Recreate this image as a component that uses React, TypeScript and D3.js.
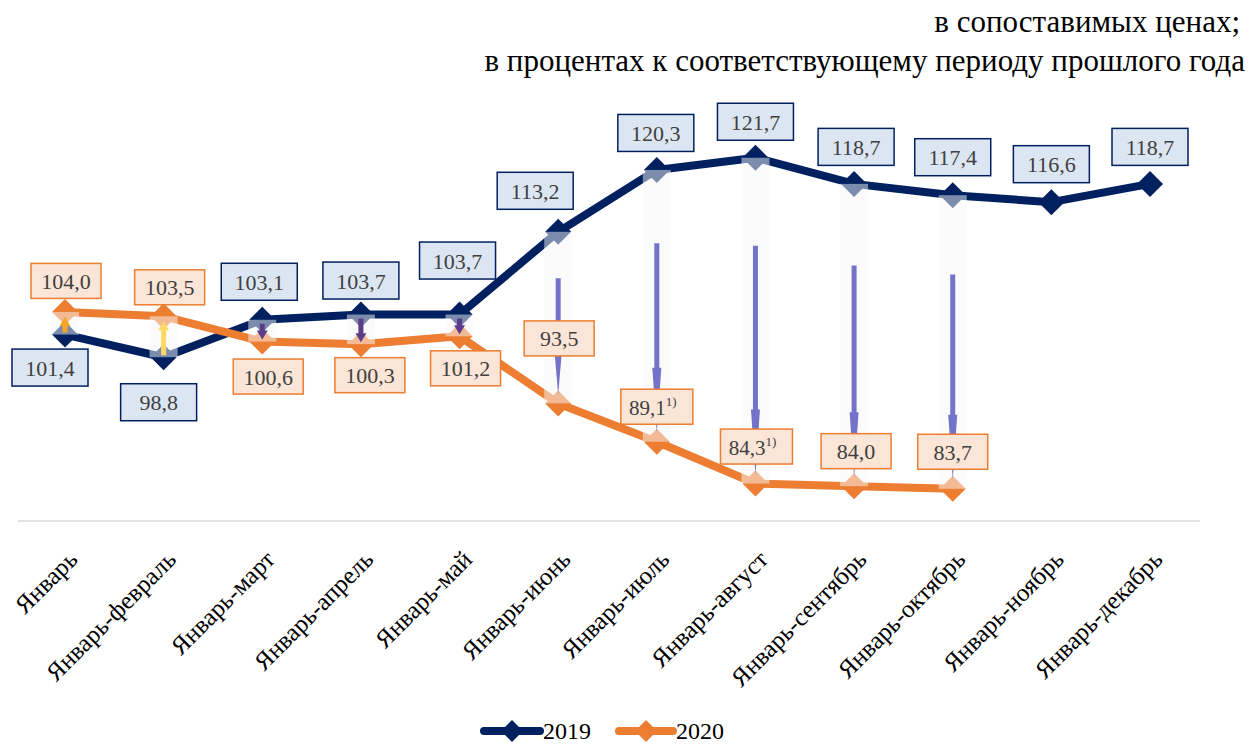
import React from 'react';
import * as d3 from 'd3';

const months = [
  'Январь', 'Январь-февраль', 'Январь-март', 'Январь-апрель', 'Январь-май', 'Январь-июнь',
  'Январь-июль', 'Январь-август', 'Январь-сентябрь', 'Январь-октябрь', 'Январь-ноябрь', 'Январь-декабрь',
];
const values2019 = [101.4, 98.8, 103.1, 103.7, 103.7, 113.2, 120.3, 121.7, 118.7, 117.4, 116.6, 118.7];
const values2020 = [104.0, 103.5, 100.6, 100.3, 101.2, 93.5, 89.1, 84.3, 84.0, 83.7];
const notes2020 = ['', '', '', '', '', '', '1)', '1)', '', ''];

// label placement relative to the point (layout only)
const lab19 = [[-15, 33], [-5, 45], [-3, -38], [0, -34], [-2, -54], [-23, -41], [-1, -37], [0, -36], [2, -37], [0, -38], [0, -38], [0, -37]];
const lab20 = [[1, -31], [6, -29], [6, 35], [9, 31], [6, 32], [1, -65], [0, -35], [1, -37], [2, -35], [0, -37]];

const W = 1251;
const H = 744;
const NAVY = '#002060';
const ORANGE = '#ed7d31';
const ARROW = '#7373c9';
const FONT = "'Liberation Serif', 'Times New Roman', Tinos, 'DejaVu Serif', serif";
const fmt = (v: number) => v.toFixed(1).replace('.', ',');

function diamond(cx: number, cy: number, r: number) {
  return `M${cx},${cy - r}L${cx + r},${cy}L${cx},${cy + r}L${cx - r},${cy}Z`;
}

function arrowPath(x: number, y0: number, y1: number, shaft: number, headW: number, headLen: number) {
  const dir = y1 > y0 ? 1 : -1;
  const hy = y1 - dir * headLen;
  return `M${x - shaft / 2},${y0}L${x + shaft / 2},${y0}L${x + shaft / 2},${hy}L${x + headW / 2},${hy}L${x},${y1}L${x - headW / 2},${hy}L${x - shaft / 2},${hy}Z`;
}

export default function App() {
  const x = d3.scalePoint<string>().domain(months).range([65, 1150]);
  const y = d3.scaleLinear().domain([80, 125]).range([521, 129]);

  const line = d3.line<number>().x((_, i) => x(months[i])!).y((d) => y(d));

  const pairs = values2020.map((v, i) => ({ i, a: values2019[i], b: v }));

  return (
    <svg width={W} height={H} style={{ position: 'absolute', left: 0, top: 0, fontFamily: FONT }}>
      <rect width={W} height={H} fill="#fff" />
      <text x={1240} y={32} textAnchor="end" fontSize={31} fill="#000">в сопоставимых ценах;</text>
      <text x={1245} y={71} textAnchor="end" fontSize={31} fill="#000">в процентах к соответствующему периоду прошлого года</text>

      <line x1={18} x2={1200} y1={y(80)} y2={y(80)} stroke="#d9d9d9" strokeWidth={1.5} />

      {months.map((m) => (
        <text key={m} transform={`translate(${x(m)! + 14},${y(80) + 40}) rotate(-45)`} textAnchor="end" fontSize={25} fill="#000">{m}</text>
      ))}

      <path d={line(values2019)!} fill="none" stroke={NAVY} strokeWidth={8} strokeLinejoin="round" />
      <path d={line(values2020)!} fill="none" stroke={ORANGE} strokeWidth={8} strokeLinejoin="round" />
      {values2019.map((v, i) => (
        <path key={'m19' + i} d={diamond(x(months[i])!, y(v), 13)} fill={NAVY} />
      ))}
      {values2020.map((v, i) => (
        <path key={'m20' + i} d={diamond(x(months[i])!, y(v), 13)} fill={ORANGE} />
      ))}

      {/* up-down bars */}
      {pairs.map(({ i, a, b }) => {
        const cx = x(months[i])!;
        const top = Math.min(y(a), y(b));
        const h = Math.abs(y(a) - y(b));
        return <rect key={'ud' + i} x={cx - 14} y={top} width={28} height={h} fill="#f7f7fa" fillOpacity={0.5} />;
      })}

      {/* difference arrows */}
      {pairs.map(({ i, a, b }) => {
        const cx = x(months[i])!;
        const ya = y(a);
        const yb = y(b);
        const gap = Math.abs(yb - ya);
        if (gap > 60) {
          const y0 = ya + 0.27 * gap;
          const y1 = yb - 9;
          const headLen = Math.min(65, (y1 - y0) * 0.45);
          return <path key={'ar' + i} d={arrowPath(cx, y0, y1, 5, 9, headLen)} fill={ARROW} />;
        }
        const up = b > a;
        const col = up ? (i === 0 ? '#f5a623' : '#ffd966') : '#5b3d8a';
        const y0 = up ? ya - 2 : ya + 4;
        const y1 = up ? yb + 5 : yb - 2;
        return <path key={'ar' + i} d={arrowPath(cx, y0, y1, 5, 11, Math.min(9, Math.abs(y1 - y0) * 0.6))} fill={col} />;
      })}

      {/* data labels 2019 */}
      {values2019.map((v, i) => {
        const cx = x(months[i])! + lab19[i][0];
        const cy = y(v) + lab19[i][1];
        return (
          <g key={'l19' + i}>
            <rect x={cx - 38} y={cy - 18.5} width={76} height={37} fill="#dce6f2" stroke={NAVY} strokeWidth={1.5} />
            <text x={cx} y={cy + 8} textAnchor="middle" fontSize={22} fill="#404040">{fmt(v)}</text>
          </g>
        );
      })}

      {/* data labels 2020 */}
      {values2020.map((v, i) => {
        const cx = x(months[i])! + lab20[i][0];
        const cy = y(v) + lab20[i][1];
        const note = notes2020[i];
        const w = note ? 72 : 70;
        return (
          <g key={'l20' + i}>
            <rect x={cx - w / 2} y={cy - 17.5} width={w} height={35} fill="#fbe5d6" stroke={ORANGE} strokeWidth={1.5} />
            <text x={note ? cx - 4 : cx} y={cy + 8} textAnchor="middle" fontSize={note ? 21 : 22} fill="#404040">
              {fmt(v)}
              {note && <tspan fontSize={13} dy={-9}>{note}</tspan>}
            </text>
          </g>
        );
      })}

      {/* legend */}
      <g>
        <line x1={484} x2={540} y1={731} y2={731} stroke={NAVY} strokeWidth={8} strokeLinecap="round" />
        <path d={diamond(512, 731, 11)} fill={NAVY} />
        <text x={543} y={739} fontSize={24} fill="#000">2019</text>
        <line x1={619} x2={673} y1={731} y2={731} stroke={ORANGE} strokeWidth={8} strokeLinecap="round" />
        <path d={diamond(646, 731, 11)} fill={ORANGE} />
        <text x={676} y={739} fontSize={24} fill="#000">2020</text>
      </g>
    </svg>
  );
}
